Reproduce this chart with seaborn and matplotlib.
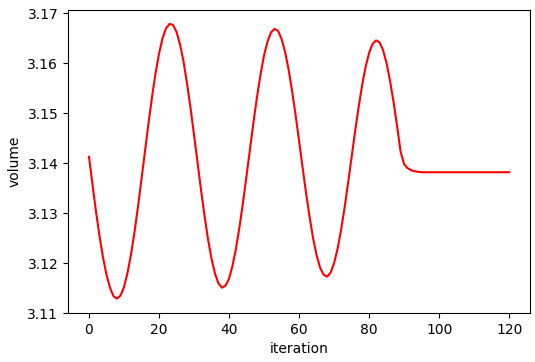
import numpy as np
import pandas as pd
import seaborn as sns
import matplotlib
matplotlib.use("Agg")
import matplotlib.pyplot as plt

# volume per iteration
iteration = list(range(121))
volume = [
    3.1413, 3.1358, 3.1304, 3.1255, 3.1212, 3.1177, 3.1151, 3.1134, 3.1129, 3.1135,
    3.1152, 3.1180, 3.1217, 3.1262, 3.1313, 3.1368, 3.1424, 3.1480, 3.1532, 3.1580,
    3.1619, 3.1650, 3.1670, 3.1679, 3.1677, 3.1663, 3.1638, 3.1604, 3.1560, 3.1511,
    3.1457, 3.1402, 3.1347, 3.1295, 3.1248, 3.1209, 3.1179, 3.1159, 3.1151, 3.1155,
    3.1169, 3.1195, 3.1230, 3.1273, 3.1322, 3.1375, 3.1429, 3.1483, 3.1533, 3.1578,
    3.1616, 3.1644, 3.1662, 3.1669, 3.1665, 3.1649, 3.1623, 3.1588, 3.1545, 3.1497,
    3.1445, 3.1392, 3.1340, 3.1293, 3.1250, 3.1216, 3.1191, 3.1177, 3.1173, 3.1181,
    3.1200, 3.1229, 3.1267, 3.1311, 3.1361, 3.1412, 3.1464, 3.1512, 3.1556, 3.1593,
    3.1621, 3.1639, 3.1646, 3.1642, 3.1626, 3.1600, 3.1564, 3.1522, 3.1474, 3.1423,
    3.1398, 3.1390, 3.1386, 3.1384, 3.1383, 3.1382, 3.1382, 3.1382, 3.1382, 3.1382,
    3.1382, 3.1382, 3.1382, 3.1382, 3.1382, 3.1382, 3.1382, 3.1382, 3.1382, 3.1382,
    3.1382, 3.1382, 3.1382, 3.1382, 3.1382, 3.1382, 3.1382, 3.1382, 3.1382, 3.1382,
    3.1382,
]

df = pd.DataFrame({'iteration': iteration, 'volume': volume})

fig = plt.figure(figsize=(5.35, 3.62), dpi=100)
ax = fig.add_axes([0.127, 0.135, 0.864, 0.837])
sns.lineplot(data=df, x='iteration', y='volume', color='red', linewidth=1.5, ax=ax)

ax.set_xticks([0, 20, 40, 60, 80, 100, 120])
ax.set_yticks([3.11, 3.12, 3.13, 3.14, 3.15, 3.16, 3.17])
ax.set_xlabel('iteration')
ax.set_ylabel('volume')

fig.savefig('out.png', dpi=100)
